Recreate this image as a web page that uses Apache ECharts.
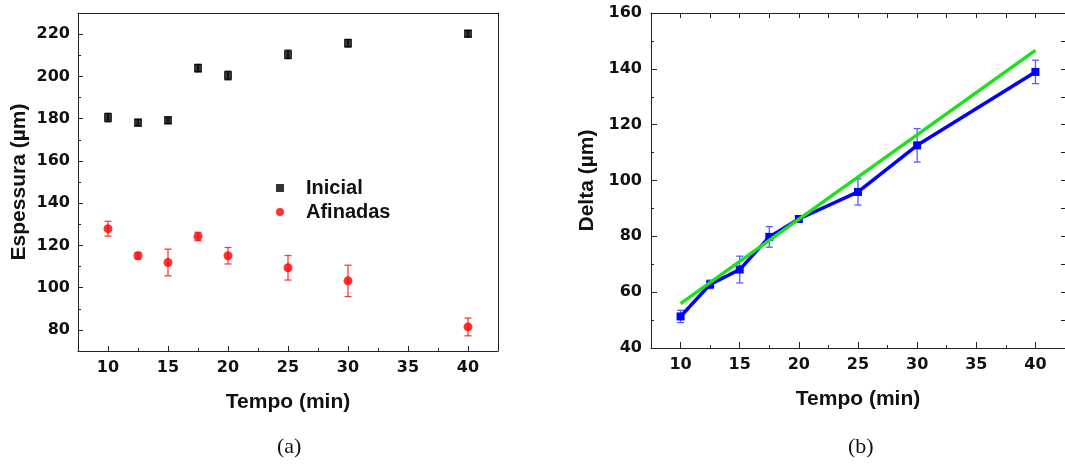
<!DOCTYPE html>
<html>
<head>
<meta charset="utf-8">
<script src="https://cdn.jsdelivr.net/npm/echarts@6/dist/echarts.min.js"></script>
<style>html,body{margin:0;padding:0;background:#fff;}#c{width:1065px;height:467px;}</style>
</head>
<body>
<div id="c"></div>
<script>
// ---- data ----
const tempo = [10, 12.5, 15, 17.5, 20, 25, 30, 40];
const inicial = [180.5, 178.1, 179.2, 203.9, 200.4, 210.4, 215.7, 220.2];
const inicialErr = [2.0, 1.6, 1.6, 1.8, 2.0, 2.0, 1.8, 1.6];
const afinadas = [127.9, 115.1, 111.9, 124.2, 115.1, 109.4, 103.2, 81.4];
const afinadasErr = [3.5, 1.5, 6.3, 2.0, 3.9, 5.8, 7.4, 4.2];
const delta = [51.3, 62.8, 68.1, 79.8, 86.2, 95.9, 112.6, 138.9];
const deltaErr = [2.2, 1.5, 4.8, 3.7, 1.0, 4.7, 6.0, 4.2];
const fitX = [10, 40];
const fitY = [55.9, 146.6];
const xMajor = [10, 15, 20, 25, 30, 35, 40];
const xMinor = [12.5, 17.5, 22.5, 27.5, 32.5, 37.5];
const yMajorA = [80, 100, 120, 140, 160, 180, 200, 220];
const yMinorA = [90, 110, 130, 150, 170, 190, 210];

const pts = (xs, ys) => xs.map((x, i) => [x, ys[i]]);
const errs = (xs, ys, es) => xs.map((x, i) => [x, ys[i] - es[i], ys[i] + es[i]]);

const TICKFONT = {fontFamily: 'DejaVu Sans', fontWeight: 'bold', fontSize: 16, color: '#111'};
const NAMEFONT = {fontFamily: 'Liberation Sans', fontWeight: 'bold', fontSize: 21, color: '#111'};
const AXLINE = {show: true, lineStyle: {color: '#222', width: 1}};

function errBar(color) {
  return function (params, api) {
    const x = api.value(0);
    const lo = api.coord([x, api.value(1)]);
    const hi = api.coord([x, api.value(2)]);
    const w = 3.5;
    const st = {stroke: color, lineWidth: 1.3};
    return {type: 'group', children: [
      {type: 'line', shape: {x1: lo[0], y1: lo[1], x2: hi[0], y2: hi[1]}, style: st},
      {type: 'line', shape: {x1: lo[0] - w, y1: lo[1], x2: lo[0] + w, y2: lo[1]}, style: st},
      {type: 'line', shape: {x1: hi[0] - w, y1: hi[1], x2: hi[0] + w, y2: hi[1]}, style: st}
    ]};
  };
}

const chart = echarts.init(document.getElementById('c'), null, {renderer: 'canvas'});
const option = {
  animation: false,
  backgroundColor: '#fff',
  grid: [
    {left: 78, top: 13, width: 420, height: 338},
    {left: 651, top: 13, width: 419, height: 335}
  ],
  xAxis: [
    // left chart
    {gridIndex: 0, type: 'value', position: 'bottom', min: 7.5, max: 42.5,
     axisLine: AXLINE, splitLine: {show: false},
     axisTick: {show: true, inside: true, length: 5, customValues: xMajor, lineStyle: {color: '#222'}},
     axisLabel: Object.assign({margin: 9, customValues: xMajor}, TICKFONT),
     name: 'Tempo (min)', nameLocation: 'middle', nameGap: 41, nameTextStyle: NAMEFONT},
    {gridIndex: 0, type: 'value', position: 'bottom', min: 7.5, max: 42.5,
     axisLine: {show: false}, splitLine: {show: false}, axisLabel: {show: false},
     axisTick: {show: true, inside: true, length: 3, customValues: xMinor, lineStyle: {color: '#222'}}},
    {gridIndex: 0, type: 'value', position: 'top', min: 7.5, max: 42.5,
     axisLine: AXLINE, splitLine: {show: false}, axisLabel: {show: false}, axisTick: {show: false}},
    // right chart
    {gridIndex: 1, type: 'value', position: 'bottom', min: 7.5, max: 42.5,
     axisLine: AXLINE, splitLine: {show: false},
     axisTick: {show: true, inside: true, length: 6, customValues: xMajor, lineStyle: {color: '#222'}},
     axisLabel: Object.assign({margin: 9, customValues: xMajor}, TICKFONT),
     name: 'Tempo (min)', nameLocation: 'middle', nameGap: 41, nameTextStyle: NAMEFONT},
    {gridIndex: 1, type: 'value', position: 'bottom', min: 7.5, max: 42.5,
     axisLine: {show: false}, splitLine: {show: false}, axisLabel: {show: false},
     axisTick: {show: true, inside: true, length: 3, customValues: xMinor, lineStyle: {color: '#222'}}},
    {gridIndex: 1, type: 'value', position: 'top', min: 7.5, max: 42.5,
     axisLine: AXLINE, splitLine: {show: false}, axisLabel: {show: false},
     axisTick: {show: true, inside: true, length: 5, customValues: xMajor.concat(xMinor), lineStyle: {color: '#222'}}}
  ],
  yAxis: [
    // left chart
    {gridIndex: 0, type: 'value', position: 'left', min: 70, max: 230,
     axisLine: AXLINE, splitLine: {show: false},
     axisTick: {show: true, inside: true, length: 5, customValues: yMajorA, lineStyle: {color: '#222'}},
     axisLabel: Object.assign({margin: 8, customValues: yMajorA}, TICKFONT),
     name: 'Espessura (µm)', nameLocation: 'middle', nameGap: 48, nameRotate: 90, nameTextStyle: NAMEFONT},
    {gridIndex: 0, type: 'value', position: 'left', min: 70, max: 230,
     axisLine: {show: false}, splitLine: {show: false}, axisLabel: {show: false},
     axisTick: {show: true, inside: true, length: 3, customValues: yMinorA, lineStyle: {color: '#222'}}},
    {gridIndex: 0, type: 'value', position: 'right', min: 70, max: 230,
     axisLine: AXLINE, splitLine: {show: false}, axisLabel: {show: false}, axisTick: {show: false}},
    // right chart
    {gridIndex: 1, type: 'value', position: 'left', min: 40, max: 160, interval: 20,
     axisLine: AXLINE, splitLine: {show: false},
     axisTick: {show: true, inside: true, length: 6, lineStyle: {color: '#222'}},
     minorTick: {show: true, splitNumber: 2, length: 3, lineStyle: {color: '#222'}},
     axisLabel: Object.assign({margin: 9}, TICKFONT),
     name: 'Delta (µm)', nameLocation: 'middle', nameGap: 53, nameRotate: 90, nameTextStyle: NAMEFONT},
    {gridIndex: 1, type: 'value', position: 'right', min: 40, max: 160, interval: 10,
     axisLine: AXLINE, splitLine: {show: false}, axisLabel: {show: false},
     axisTick: {show: true, inside: true, length: 4, lineStyle: {color: '#222'}}}
  ],
  legend: {
    left: 271, top: 173, orient: 'vertical', itemGap: 4, itemWidth: 8, itemHeight: 8,
    data: [{name: 'Inicial', icon: 'rect'}, {name: 'Afinadas', icon: 'circle'}],
    textStyle: {fontFamily: 'Liberation Sans', fontWeight: 'bold', fontSize: 20, color: '#111',
                padding: [0, 0, 0, 17], lineHeight: 20}
  },
  series: [
    {type: 'custom', xAxisIndex: 0, yAxisIndex: 0, renderItem: errBar('#111'),
     data: errs(tempo, inicial, inicialErr), encode: {x: 0, y: [1, 2]}, silent: true, z: 1},
    {type: 'custom', xAxisIndex: 0, yAxisIndex: 0, renderItem: errBar('#ff3c3c'),
     data: errs(tempo, afinadas, afinadasErr), encode: {x: 0, y: [1, 2]}, silent: true, z: 1},
    {name: 'Inicial', type: 'scatter', xAxisIndex: 0, yAxisIndex: 0, symbol: 'rect', symbolSize: 8,
     itemStyle: {color: '#000'}, data: pts(tempo, inicial), z: 3},
    {name: 'Afinadas', type: 'scatter', xAxisIndex: 0, yAxisIndex: 0, symbol: 'circle', symbolSize: 9,
     itemStyle: {color: '#ff0000'}, data: pts(tempo, afinadas), z: 3},
    {type: 'custom', xAxisIndex: 3, yAxisIndex: 3, renderItem: errBar('#5a5aff'),
     data: errs(tempo, delta, deltaErr), encode: {x: 0, y: [1, 2]}, silent: true, z: 1},
    {name: 'Delta', type: 'line', xAxisIndex: 3, yAxisIndex: 3, symbol: 'rect', symbolSize: 8,
     showSymbol: true, lineStyle: {color: '#0000ff', width: 3.5}, itemStyle: {color: '#0000ff'},
     data: pts(tempo, delta), z: 3},
    {name: 'Ajuste', type: 'line', xAxisIndex: 3, yAxisIndex: 3, symbol: 'none',
     lineStyle: {color: '#1ee01e', width: 3.5}, data: pts(fitX, fitY), z: 4}
  ],
  graphic: [
    {type: 'text', left: 277, top: 436, style: {text: '(a)', font: '22px "Liberation Serif"', fill: '#111'}},
    {type: 'text', left: 848, top: 436, style: {text: '(b)', font: '22px "Liberation Serif"', fill: '#111'}}
  ]
};
chart.setOption(option);
</script>
</body>
</html>
